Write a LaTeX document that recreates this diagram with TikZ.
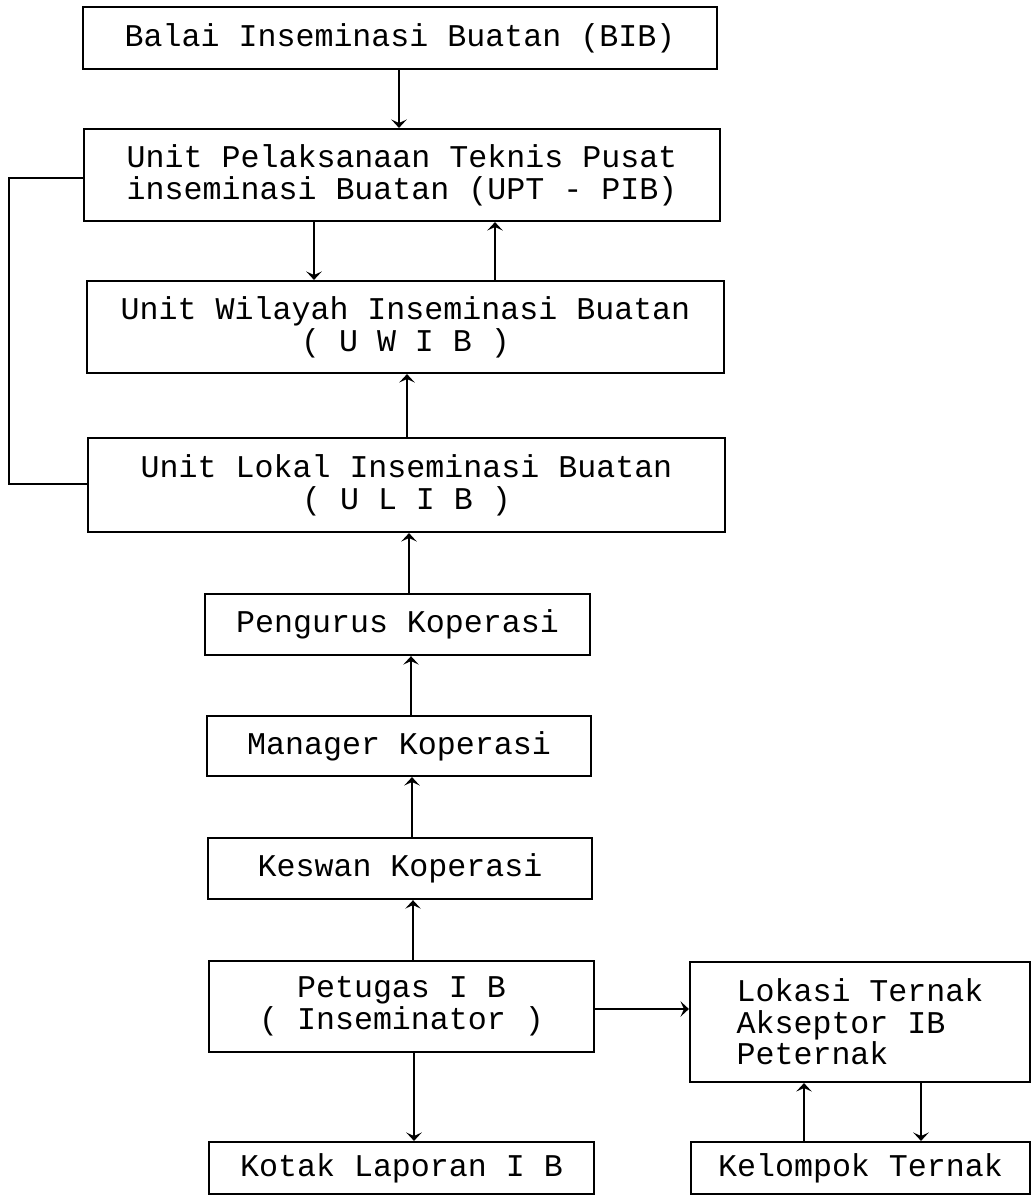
\documentclass[tikz,border=0pt]{standalone}
\usepackage{fontspec}
\setmonofont{Liberation Mono}
\usepackage{tikz}
\usetikzlibrary{arrows.meta}

\tikzset{
  box/.style={draw, line width=1.5pt, inner sep=0pt, align=center,
    font=\ttfamily\fontsize{22.5pt}{22.5pt}\selectfont},
  arr/.style={-{Stealth[length=6pt,width=11pt,inset=2.5pt]}, line width=0.9pt},
  link/.style={line width=1.3pt}
}

\begin{document}
\begin{tikzpicture}[x=0.025cm, y=-0.025cm]
    \useasboundingbox (0,0) rectangle (1032,1203);

    % Boxes, main column
    \node[box, minimum width=15.85cm, minimum height=1.53cm] (bib) at (400,38) {Balai Inseminasi Buatan (BIB)};
    \node[box, minimum width=15.9cm, minimum height=2.3cm] (upt) at (402,175) {Unit Pelaksanaan Teknis Pusat\\inseminasi Buatan (UPT - PIB)};
    \node[box, minimum width=15.93cm, minimum height=2.3cm] (uwib) at (405.5,327) {Unit Wilayah Inseminasi Buatan\\( U W I B )};
    \node[box, minimum width=15.93cm, minimum height=2.35cm] (ulib) at (406.5,485) {Unit Lokal Inseminasi Buatan\\( U L I B )};
    \node[box, minimum width=9.63cm, minimum height=1.53cm] (pengurus) at (397.5,624.5) {Pengurus Koperasi};
    \node[box, minimum width=9.6cm, minimum height=1.5cm] (manager) at (399,746) {Manager Koperasi};
    \node[box, minimum width=9.6cm, minimum height=1.53cm] (keswan) at (400,868.5) {Keswan Koperasi};
    \node[box, minimum width=9.63cm, minimum height=2.28cm] (petugas) at (401.5,1006.5) {Petugas I B\\( Inseminator )};
    \node[box, minimum width=9.63cm, minimum height=1.3cm] (kotak) at (401.5,1168) {Kotak Laporan I B};

    % Boxes, right side
    \node[box, align=left, minimum width=8.5cm, minimum height=3cm] (lokasi) at (860,1022) {Lokasi Ternak\\Akseptor IB\\Peternak};
    \node[box, minimum width=8.48cm, minimum height=1.3cm] (kelompok) at (860.5,1168) {Kelompok Ternak};

    % Arrows
    \draw[arr] (bib.south -| 399,0) -- (upt.north -| 399,0);
    \draw[arr] (upt.south -| 314,0) -- (uwib.north -| 314,0);
    \draw[arr] (uwib.north -| 495,0) -- (upt.south -| 495,0);
    \draw[arr] (ulib.north -| 407,0) -- (uwib.south -| 407,0);
    \draw[arr] (pengurus.north -| 409,0) -- (ulib.south -| 409,0);
    \draw[arr] (manager.north -| 411,0) -- (pengurus.south -| 411,0);
    \draw[arr] (keswan.north -| 412,0) -- (manager.south -| 412,0);
    \draw[arr] (petugas.north -| 413,0) -- (keswan.south -| 413,0);
    \draw[arr] (petugas.south -| 414,0) -- (kotak.north -| 414,0);
    \draw[arr] (petugas.east |- 0,1009) -- (lokasi.west |- 0,1009);
    \draw[arr] (kelompok.north -| 804,0) -- (lokasi.south -| 804,0);
    \draw[arr] (lokasi.south -| 921,0) -- (kelompok.north -| 921,0);

    % Side link
    \draw[link] (upt.west |- 0,178) -- (9,178) -- (9,484) -- (ulib.west |- 0,484);
\end{tikzpicture}
\end{document}
